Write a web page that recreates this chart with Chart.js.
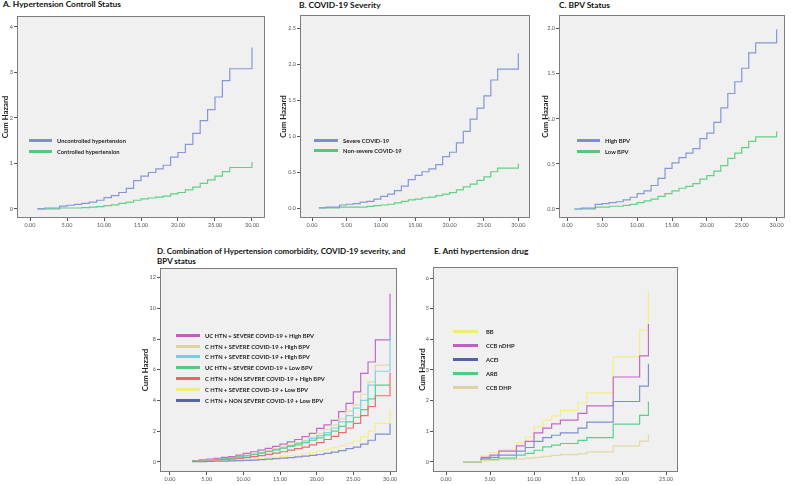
<!DOCTYPE html>
<html>
<head>
<meta charset="utf-8">
<script src="https://cdn.jsdelivr.net/npm/chart.js@4.4.0/dist/chart.umd.min.js"></script>
<style>
  html, body { margin: 0; padding: 0; background: #fff; }
  #page { position: relative; width: 791px; height: 485px; overflow: hidden; font-family: 'Lato', 'Open Sans', sans-serif; }
  canvas { position: absolute; }
  .ptitle { position: absolute; font-weight: bold; font-size: 8.4px; line-height: 9.5px; color: #111; white-space: nowrap; }
  .sw { position: absolute; height: 3px; }
  .lt { position: absolute; font-weight: bold; font-size: 5.8px; line-height: 7px; color: #222; white-space: nowrap; }
</style>
</head>
<body>
<div id="page">
  <div class="ptitle" style="left:3px;top:0px;">A. Hypertension Controll Status</div>
  <div class="ptitle" style="left:299px;top:1px;">B. COVID-19 Severity</div>
  <div class="ptitle" style="left:559px;top:1px;">C. BPV Status</div>
  <div class="ptitle" style="left:157px;top:247px;font-size:8px;">D. Combination of Hypertension comorbidity, COVID-19 severity, and<br>BPV status</div>
  <div class="ptitle" style="left:434px;top:247px;">E. Anti hypertension drug</div>

  <canvas id="chartA" width="270" height="235" style="left:0px;top:0px;"></canvas>
  <canvas id="chartB" width="265" height="235" style="left:270px;top:0px;"></canvas>
  <canvas id="chartC" width="256" height="235" style="left:535px;top:0px;"></canvas>
  <canvas id="chartD" width="267" height="245" style="left:135px;top:240px;"></canvas>
  <canvas id="chartE" width="280" height="245" style="left:405px;top:240px;"></canvas>
</div>

<script>
// ---- data ----
const timesABC = [1, 2, 3, 4, 5, 6, 7, 8, 9, 10, 11, 12, 13, 14, 15, 16, 17, 18, 19, 20, 21, 22, 23, 24, 25, 26, 27, 30];
const xTicks30 = [0, 5, 10, 15, 20, 25, 30];

// A. Hypertension control status
const uncontrolledHTN = [0, .02, .02, .06, .08, .10, .12, .15, .19, .25, .29, .36, .45, .62, .72, .80, .88, .96, 1.14, 1.24, 1.42, 1.66, 1.94, 2.18, 2.46, 2.82, 3.08, 3.55];
const controlledHTN = [0, 0, 0, .02, .02, .02, .03, .04, .05, .07, .09, .12, .15, .19, .22, .24, .26, .28, .33, .36, .42, .48, .56, .64, .72, .82, .91, 1.03];
const yTicksA = [0, 1, 2, 3, 4];

// B. COVID-19 severity
const severeCovid = [.01, .02, .02, .05, .06, .07, .09, .10, .13, .17, .20, .25, .31, .40, .46, .51, .55, .61, .72, .78, .91, 1.07, 1.24, 1.39, 1.56, 1.78, 1.93, 2.15];
const nonSevereCovid = [.01, .01, .01, .02, .02, .02, .02, .03, .04, .05, .06, .08, .10, .12, .13, .15, .16, .18, .20, .22, .26, .30, .34, .39, .44, .51, .56, .62];
const yTicksB = [0, 0.5, 1.0, 1.5, 2.0, 2.5];

// C. BPV status
const highBPV = [0, .01, .01, .05, .06, .07, .08, .10, .13, .17, .20, .26, .34, .45, .51, .57, .62, .67, .78, .84, .96, 1.12, 1.28, 1.41, 1.56, 1.73, 1.84, 1.99];
const lowBPV = [0, 0, 0, .02, .02, .03, .03, .04, .05, .07, .09, .11, .14, .17, .20, .23, .25, .28, .33, .37, .42, .48, .56, .62, .68, .75, .80, .86];
const yTicksC = [0, 0.5, 1.0, 1.5, 2.0];

// D. Combinations
const timesD = [3, 4, 5, 6, 7, 8, 9, 10, 11, 12, 13, 14, 15, 16, 17, 18, 19, 20, 21, 22, 23, 24, 25, 26, 27, 28, 30];
const ucSevereHigh = [.05, .13, .17, .22, .28, .33, .43, .55, .65, .76, .87, 1.0, 1.15, 1.3, 1.45, 1.63, 1.85, 2.17, 2.4, 2.7, 3.26, 3.8, 4.56, 5.76, 6.5, 7.95, 10.95];
const cSevereHighA = [.03, .08, .12, .15, .2, .26, .33, .42, .5, .6, .72, .85, .98, 1.1, 1.25, 1.4, 1.6, 1.85, 2.1, 2.4, 2.8, 3.3, 3.7, 4.4, 5.2, 6.3, 6.3];
const cSevereHighB = [.03, .07, .1, .13, .18, .23, .3, .38, .46, .55, .65, .76, .9, 1.05, 1.2, 1.35, 1.5, 1.7, 1.9, 2.2, 2.6, 3.0, 3.5, 4.0, 5.0, 5.9, 8.2];
const ucSevereLow = [.02, .06, .1, .14, .19, .25, .32, .4, .48, .58, .68, .78, .88, 1.0, 1.1, 1.25, 1.4, 1.55, 1.75, 2.0, 2.3, 2.6, 2.9, 3.4, 4.1, 5.0, 5.0];
const cNonSevereHigh = [.02, .04, .06, .09, .12, .16, .21, .27, .33, .4, .48, .56, .65, .75, .85, .95, 1.1, 1.25, 1.45, 1.65, 1.9, 2.2, 2.5, 3.0, 3.6, 4.3, 5.8];
const cSevereLow = [.01, .02, .03, .04, .06, .08, .1, .13, .16, .2, .25, .3, .35, .4, .45, .52, .6, .7, .8, .9, 1.05, 1.2, 1.35, 1.6, 2.0, 2.5, 3.4];
const cNonSevereLow = [0, .01, .02, .03, .04, .05, .07, .09, .11, .14, .17, .2, .23, .27, .31, .36, .41, .47, .54, .62, .72, .85, .95, 1.15, 1.4, 1.8, 2.5];
const yTicksD = [0, 2, 4, 6, 8, 10, 12];

// E. Anti hypertension drug
const timesE = [2, 4, 5, 6, 8, 9, 10, 11, 12, 13, 15, 16, 19, 22, 23];
const drugBB = [0, .2, .3, .4, .62, .82, 1.14, 1.36, 1.5, 1.68, 1.93, 2.25, 3.43, 4.3, 5.6];
const drugCCBnDHP = [0, .15, .22, .35, .52, .67, .95, 1.1, 1.24, 1.36, 1.58, 1.83, 2.77, 3.46, 4.5];
const drugACEi = [0, .1, .15, .22, .35, .47, .67, .79, .87, .95, 1.1, 1.3, 1.97, 2.47, 3.2];
const drugARB = [0, .05, .08, .12, .22, .28, .38, .49, .55, .6, .7, .79, 1.23, 1.52, 1.96];
const drugCCBDHP = [0, .04, .05, .07, .1, .12, .15, .18, .21, .24, .27, .33, .52, .68, .89];
const xTicksE = [0, 5, 10, 15, 20, 25];
const yTicksE = [0, 1, 2, 3, 4, 5, 6];

// SPSS-ish colours
const BLUE = '#8797d6', GREEN = '#63cf88';
const PURPLE = '#c46ac4', BEIGE = '#e2d9a8', CYAN = '#7cd6e2', MINT = '#5ccf8c', RED = '#f06b72', YELLOW = '#f3ee86', NAVY = '#7f8fcf';

// plot background + full frame around the chart area
const boxPlugin = {
    id: 'spssBox',
    beforeDatasetsDraw(chart) {
        const { ctx, chartArea: a } = chart;
        ctx.save();
        ctx.fillStyle = '#f0f0f0';
        ctx.fillRect(a.left, a.top, a.right - a.left, a.bottom - a.top);
        ctx.restore();
    },
    afterDraw(chart) {
        const { ctx, chartArea: a } = chart;
        ctx.save();
        ctx.strokeStyle = '#7d7d7d';
        ctx.lineWidth = 1;
        ctx.strokeRect(a.left + 0.5, a.top + 0.5, a.right - a.left - 1, a.bottom - a.top - 1);
        ctx.restore();
    }
};

function makePanel(id, cfg) {
    new Chart(document.getElementById(id), {
        type: 'scatter',
        data: {
            datasets: cfg.series.map(s => ({
                label: s.label,
                data: cfg.times.map((t, i) => ({ x: t, y: s.values[i] })),
                borderColor: s.color,
                borderWidth: 1.2,
                showLine: true,
                stepped: 'before',
                pointRadius: 0,
                fill: false
            }))
        },
        options: {
            responsive: false,
            animation: false,
            devicePixelRatio: 1,
            layout: { padding: { top: cfg.padTop, right: cfg.padRight, left: 0, bottom: 0 } },
            plugins: { legend: { display: false }, tooltip: { enabled: false } },
            scales: {
                x: {
                    type: 'linear',
                    min: cfg.xMin, max: cfg.xMax,
                    afterBuildTicks: scale => { scale.ticks = cfg.xTicks.map(v => ({ value: v })); },
                    afterFit: scale => { scale.height = cfg.xh; },
                    grid: { drawOnChartArea: false, tickLength: 3, color: '#555' },
                    border: { display: false },
                    ticks: { callback: v => v.toFixed(2), font: { size: 5.5 }, color: '#555', padding: 1, maxRotation: 0, autoSkip: false }
                },
                y: {
                    type: 'linear',
                    min: cfg.yMin, max: cfg.yMax,
                    afterBuildTicks: scale => { scale.ticks = cfg.yTicks.map(v => ({ value: v })); },
                    afterFit: scale => { scale.width = cfg.yw; },
                    grid: { drawOnChartArea: false, tickLength: 3, color: '#555' },
                    border: { display: false },
                    ticks: { callback: v => cfg.yFmt(v), font: { size: 5.5 }, color: '#555', padding: 1, autoSkip: false },
                    title: { display: true, text: 'Cum Hazard', color: '#222', font: { size: 7.8, weight: 'bold' }, padding: { top: cfg.titlePad, bottom: 0 } }
                }
            }
        },
        plugins: [boxPlugin]
    });
}

Chart.defaults.font.family = "'Lato', 'Open Sans', sans-serif";

makePanel('chartA', {
    times: timesABC, xTicks: xTicks30, yTicks: yTicksA, yFmt: v => String(v),
    xMin: -1.76, xMax: 31.76, yMin: -0.2, yMax: 4.24,
    padTop: 16, padRight: 5, yw: 17, xh: 17, titlePad: 1,
    series: [
        { label: 'Uncontrolled hypertension', values: uncontrolledHTN, color: BLUE },
        { label: 'Controlled hypertension', values: controlledHTN, color: GREEN }
    ]
});

makePanel('chartB', {
    times: timesABC, xTicks: xTicks30, yTicks: yTicksB, yFmt: v => v.toFixed(1),
    xMin: -1.75, xMax: 31.7, yMin: -0.13, yMax: 2.68,
    padTop: 15, padRight: 5, yw: 30, xh: 17, titlePad: 8.5,
    series: [
        { label: 'Severe COVID-19', values: severeCovid, color: BLUE },
        { label: 'Non-severe COVID-19', values: nonSevereCovid, color: GREEN }
    ]
});

makePanel('chartC', {
    times: timesABC, xTicks: xTicks30, yTicks: yTicksC, yFmt: v => v.toFixed(1),
    xMin: -1.2, xMax: 31.2, yMin: -0.1, yMax: 2.15,
    padTop: 15, padRight: 6, yw: 24, xh: 17, titlePad: 5.5,
    series: [
        { label: 'High BPV', values: highBPV, color: BLUE },
        { label: 'Low BPV', values: lowBPV, color: GREEN }
    ]
});

makePanel('chartD', {
    times: timesD, xTicks: xTicks30, yTicks: yTicksD, yFmt: v => String(v),
    xMin: -1.36, xMax: 30.95, yMin: -0.67, yMax: 12.63,
    padTop: 28, padRight: 5, yw: 25, xh: 13, titlePad: 5.5,
    series: [
        { label: 'C HTN + NON SEVERE COVID-19 + Low BPV', values: cNonSevereLow, color: NAVY },
        { label: 'C HTN + SEVERE COVID-19 + Low BPV', values: cSevereLow, color: YELLOW },
        { label: 'C HTN + NON SEVERE COVID-19 + High BPV', values: cNonSevereHigh, color: RED },
        { label: 'UC HTN + SEVERE COVID-19 + Low BPV', values: ucSevereLow, color: MINT },
        { label: 'C HTN + SEVERE COVID-19 + High BPV', values: cSevereHighB, color: CYAN },
        { label: 'C HTN + SEVERE COVID-19 + High BPV', values: cSevereHighA, color: BEIGE },
        { label: 'UC HTN + SEVERE COVID-19 + High BPV', values: ucSevereHigh, color: PURPLE }
    ]
});

makePanel('chartE', {
    times: timesE, xTicks: xTicksE, yTicks: yTicksE, yFmt: v => String(v),
    xMin: -1.48, xMax: 26.36, yMin: -0.33, yMax: 6.36,
    padTop: 27, padRight: 7, yw: 28, xh: 13, titlePad: 12.5,
    series: [
        { label: 'CCB DHP', values: drugCCBDHP, color: BEIGE },
        { label: 'ARB', values: drugARB, color: MINT },
        { label: 'ACEi', values: drugACEi, color: NAVY },
        { label: 'CCB nDHP', values: drugCCBnDHP, color: PURPLE },
        { label: 'BB', values: drugBB, color: YELLOW }
    ]
});

// in-plot legends (page coordinates)
function addLegend(x0, x1, textX, rows) {
    const page = document.getElementById('page');
    rows.forEach(r => {
        const sw = document.createElement('div');
        sw.className = 'sw';
        sw.style.left = x0 + 'px';
        sw.style.width = (x1 - x0) + 'px';
        sw.style.top = (r.y - 1.5) + 'px';
        sw.style.background = r.color;
        page.appendChild(sw);
        const t = document.createElement('div');
        t.className = 'lt';
        t.style.left = textX + 'px';
        t.style.top = (r.y - 3.5) + 'px';
        t.textContent = r.text;
        page.appendChild(t);
    });
}

addLegend(29, 52, 57, [
    { y: 140, text: 'Uncontrolled hypertension', color: '#7d8ed2' },
    { y: 151, text: 'Controlled hypertension', color: '#52c97c' }
]);
addLegend(314, 338, 343, [
    { y: 140, text: 'Severe COVID-19', color: '#7d8ed2' },
    { y: 150, text: 'Non-severe COVID-19', color: '#52c97c' }
]);
addLegend(577, 600, 605, [
    { y: 140, text: 'High BPV', color: '#7d8ed2' },
    { y: 151, text: 'Low BPV', color: '#52c97c' }
]);
addLegend(176, 200, 205, [
    { y: 335, text: 'UC HTN + SEVERE COVID-19 + High BPV', color: '#bf5fbf' },
    { y: 346, text: 'C HTN + SEVERE COVID-19 + High BPV', color: '#ddd3a0' },
    { y: 356.7, text: 'C HTN + SEVERE COVID-19 + High BPV', color: '#70d2de' },
    { y: 367.3, text: 'UC HTN + SEVERE COVID-19 + Low BPV', color: '#4fcb82' },
    { y: 378, text: 'C HTN + NON SEVERE COVID-19 + High BPV', color: '#ef6068' },
    { y: 389.3, text: 'C HTN + SEVERE COVID-19 + Low BPV', color: '#f2ec78' },
    { y: 400.3, text: 'C HTN + NON SEVERE COVID-19 + Low BPV', color: '#5565a6' }
]);
addLegend(453, 478, 486, [
    { y: 331, text: 'BB', color: '#f2ec70' },
    { y: 345, text: 'CCB nDHP', color: '#bf5fbf' },
    { y: 359.7, text: 'ACEi', color: '#5262a3' },
    { y: 373.3, text: 'ARB', color: '#4fcb82' },
    { y: 387, text: 'CCB DHP', color: '#ddd3a0' }
]);
</script>
</body>
</html>
